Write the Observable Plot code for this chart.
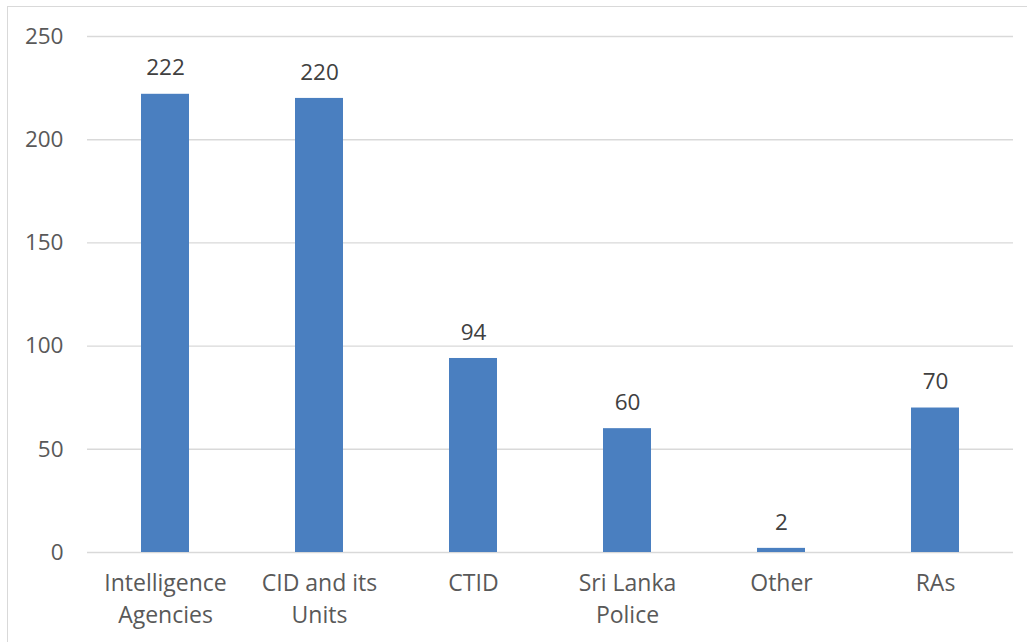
<!DOCTYPE html>
<html>
<head>
<meta charset="utf-8">
<script src="https://cdn.jsdelivr.net/npm/d3@7"></script>
<script src="https://cdn.jsdelivr.net/npm/@observablehq/plot@0.6"></script>
<style>
  html, body { margin: 0; padding: 0; background: #fff; overflow: hidden; }
  #wrap { position: relative; width: 1027px; height: 642px; }
  #border { position: absolute; left: 7px; top: 6px; width: 1100px; height: 700px;
            border-left: 1.5px solid #d9d9d9; border-top: 1.5px solid #d9d9d9; }
  #chart { position: absolute; left: 0; top: 0; }
</style>
</head>
<body>
<div id="wrap"><div id="border"></div><div id="chart"></div></div>
<script>
const categories = ["Intelligence Agencies", "CID and its Units", "CTID", "Sri Lanka Police", "Other", "RAs"];
const counts = [222, 220, 94, 60, 2, 70];
const tickLabels = ["Intelligence\nAgencies", "CID and its\nUnits", "CTID", "Sri Lanka\nPolice", "Other", "RAs"];
const yTicks = [0, 50, 100, 150, 200, 250];

const data = categories.map((c, i) => ({category: c, count: counts[i]}));
const labelOf = new Map(categories.map((c, i) => [c, tickLabels[i]]));

const chart = Plot.plot({
  width: 1027,
  height: 642,
  marginLeft: 87,
  marginRight: 14,
  marginTop: 36,
  marginBottom: 90,
  style: {fontFamily: "'Open Sans', sans-serif", fontSize: "22px", background: "transparent"},
  x: {domain: categories, paddingInner: 0.69, paddingOuter: 0.345, label: null},
  y: {domain: [0, 250], label: null},
  marks: [
    Plot.gridY(yTicks, {stroke: "#d9d9d9", strokeOpacity: 1, strokeWidth: 1.4}),
    Plot.barY(data, {x: "category", y: "count", fill: "#4a7fc0"}),
    Plot.text(data, {x: "category", y: "count", text: d => String(d.count), dy: -26,
      fill: "#404040", fontSize: 22.5}),
    Plot.axisY(yTicks, {tickSize: 0, tickPadding: 24, fill: "#595959", fontSize: 22.5, tickFormat: d => String(d)}),
    Plot.axisX({tickSize: 0, tickPadding: 16, fill: "#595959", fontSize: 23, lineHeight: 1.38,
      tickFormat: d => labelOf.get(d)})
  ]
});
document.getElementById("chart").appendChild(chart);
</script>
</body>
</html>
